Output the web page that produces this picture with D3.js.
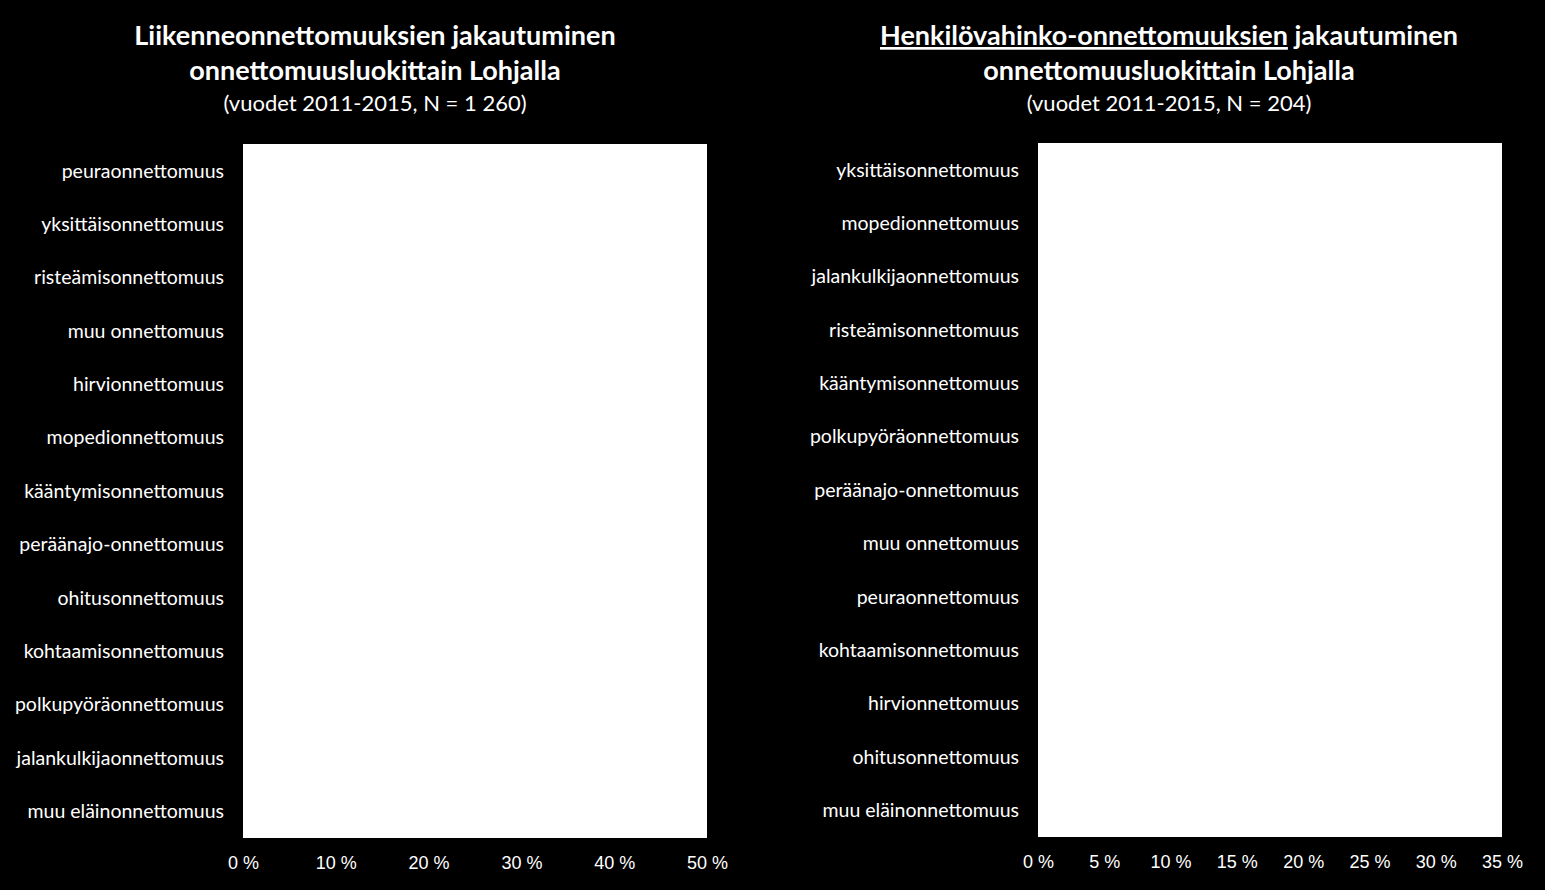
<!DOCTYPE html>
<html>
<head>
<meta charset="utf-8">
<script src="https://cdn.jsdelivr.net/npm/d3@7"></script>
<style>
  body { margin: 0; background: #000; }
  svg { display: block; font-family: Lato, sans-serif; }
  .title { fill: #fff; font-weight: bold; font-size: 27px; }
  .sub { fill: #fff; font-size: 22px; }
  .cat { fill: #fff; font-size: 19.5px; }
  .tick text { fill: #fff; font-size: 18px; }
</style>
</head>
<body>
<div id="chart"></div>
<script>
// data (bars are white on the white plot area in the reference, values estimated)

const leftCategories = [
  "peuraonnettomuus", "yksittäisonnettomuus", "risteämisonnettomuus",
  "muu onnettomuus", "hirvionnettomuus", "mopedionnettomuus",
  "kääntymisonnettomuus", "peräänajo-onnettomuus", "ohitusonnettomuus",
  "kohtaamisonnettomuus", "polkupyöräonnettomuus", "jalankulkijaonnettomuus",
  "muu eläinonnettomuus"
];
const leftValues = [30, 17, 11, 9, 7, 5, 4.5, 4, 3.5, 3, 2.5, 2, 1.5];
const leftTicks = [0, 10, 20, 30, 40, 50];

const rightCategories = [
  "yksittäisonnettomuus", "mopedionnettomuus", "jalankulkijaonnettomuus",
  "risteämisonnettomuus", "kääntymisonnettomuus", "polkupyöräonnettomuus",
  "peräänajo-onnettomuus", "muu onnettomuus", "peuraonnettomuus",
  "kohtaamisonnettomuus", "hirvionnettomuus", "ohitusonnettomuus",
  "muu eläinonnettomuus"
];
const rightValues = [30, 15, 10, 9, 8, 7, 6, 5, 4, 3, 2, 1.5, 1];
const rightTicks = [0, 5, 10, 15, 20, 25, 30, 35];

const width = 1545, height = 890;

const svg = d3.select("#chart").append("svg")
  .attr("width", width).attr("height", height);

svg.append("rect").attr("width", width).attr("height", height).attr("fill", "#000");

function drawPanel(opts) {
  const g = svg.append("g");

  // plot area
  g.append("rect")
    .attr("x", opts.x0).attr("y", opts.y0)
    .attr("width", opts.x1 - opts.x0).attr("height", opts.y1 - opts.y0)
    .attr("fill", "#fff");

  const x = d3.scaleLinear([0, d3.max(opts.ticks)], [opts.x0, opts.x1]);
  const y = d3.scaleBand(opts.categories, [opts.y0, opts.y1])
    .paddingInner(0.33).paddingOuter(0.165);

  g.selectAll(".bar")
    .data(opts.values)
    .join("rect")
    .attr("class", "bar")
    .attr("x", x(0))
    .attr("y", (d, i) => y(opts.categories[i]))
    .attr("width", (d) => x(d) - x(0))
    .attr("height", y.bandwidth())
    .attr("fill", "#fff");

  g.selectAll(".cat")
    .data(opts.categories)
    .join("text")
    .attr("class", "cat")
    .attr("text-anchor", "end")
    .attr("x", opts.x0 - 19)
    .attr("y", (d) => y(d) + y.bandwidth() / 2)
    .attr("dy", "0.35em")
    .text((d) => d);

  const axis = g.append("g")
    .attr("transform", "translate(0," + opts.y1 + ")")
    .call(d3.axisBottom(x).tickValues(opts.ticks).tickSize(0).tickPadding(18)
      .tickFormat((d) => d + " %"));
  axis.select(".domain").remove();

  // titles
  const t = g.append("text").attr("class", "title")
    .attr("x", opts.cx).attr("y", 45).attr("text-anchor", "middle");
  opts.title1(t);
  g.append("text").attr("class", "title")
    .attr("x", opts.cx).attr("y", 80).attr("text-anchor", "middle")
    .text("onnettomuusluokittain Lohjalla");
  g.append("text").attr("class", "sub")
    .attr("x", opts.cx).attr("y", 111).attr("text-anchor", "middle")
    .text(opts.subtitle);
}

drawPanel({
  x0: 243, x1: 707, y0: 144, y1: 838, cx: 375,
  categories: leftCategories, values: leftValues, ticks: leftTicks,
  title1: (t) => t.text("Liikenneonnettomuuksien jakautuminen"),
  subtitle: "(vuodet 2011-2015, N = 1 260)"
});

drawPanel({
  x0: 1038, x1: 1502, y0: 143, y1: 837, cx: 1169,
  categories: rightCategories, values: rightValues, ticks: rightTicks,
  title1: (t) => {
    t.append("tspan").attr("text-decoration", "underline")
      .text("Henkilövahinko-onnettomuuksien");
    t.append("tspan").text(" jakautuminen");
  },
  subtitle: "(vuodet 2011-2015, N = 204)"
});
</script>
</body>
</html>
